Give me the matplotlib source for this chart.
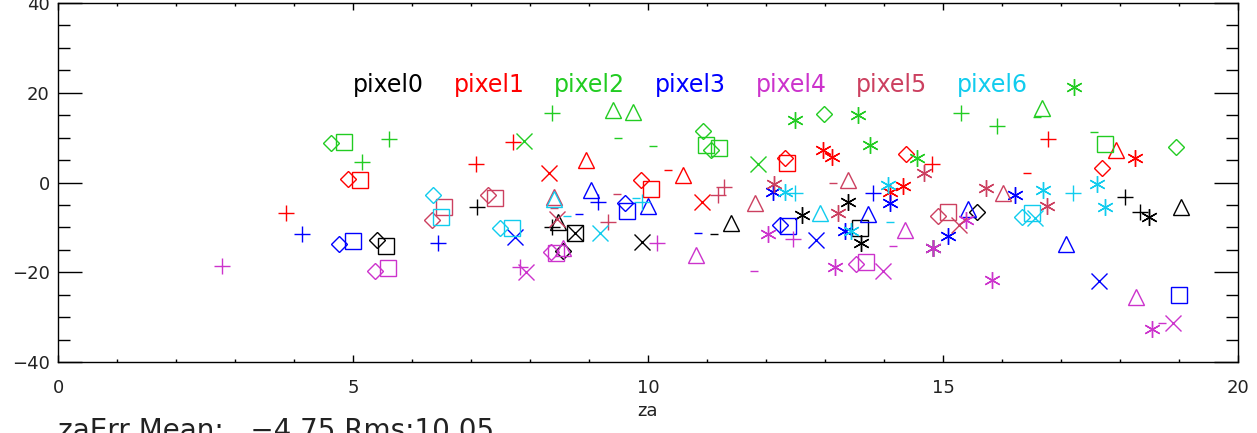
import matplotlib
matplotlib.use('Agg')
import matplotlib.pyplot as plt
from matplotlib.ticker import MultipleLocator

# za offsets per pixel
pixels = ['pixel0', 'pixel1', 'pixel2', 'pixel3', 'pixel4', 'pixel5', 'pixel6']
colors = ['#000000', '#ff0000', '#22cc22', '#0000ff', '#cc33cc', '#cc4060', '#11ccee']

za0 = [5.41, 5.56, 7.10, 8.47, 8.37, 8.76, 8.76, 8.56, 9.90, 11.12, 11.41, 12.61, 13.39,
       13.59, 13.61, 14.83, 15.58, 18.08, 18.34, 18.49, 19.03]
err0 = [-12.8, -14.2, -5.5, -8.8, -9.9, -11.3, -11.3, -15.3, -13.3, -11.5, -9.0, -7.2, -4.3,
        -10.1, -13.5, -14.6, -6.6, -3.2, -6.6, -7.7, -5.5]
sym0 = ['diamond', 'square', 'plus', 'triangle', 'plus', 'square', 'cross', 'diamond', 'cross',
        'dash', 'triangle', 'star', 'star', 'square', 'star', 'star', 'diamond', 'plus', 'plus',
        'star', 'triangle']

za1 = [3.86, 4.92, 5.12, 7.08, 7.71, 8.32, 8.95, 9.88, 10.05, 10.34, 10.59, 10.92, 12.32,
       12.36, 12.97, 13.12, 14.10, 14.32, 14.37, 14.81, 16.42, 16.78, 17.69, 17.93, 18.25]
err1 = [-6.8, 0.8, 0.6, 4.1, 9.0, 2.1, 5.0, 0.6, -1.4, 2.8, 1.7, -4.3, 5.5,
        4.3, 7.2, 5.7, -2.1, -0.8, 6.4, 4.1, 2.1, 9.7, 3.2, 7.2, 5.5]
sym1 = ['plus', 'diamond', 'square', 'plus', 'plus', 'cross', 'triangle', 'diamond', 'square',
        'dash', 'triangle', 'cross', 'diamond', 'square', 'star', 'star', 'star', 'star',
        'diamond', 'plus', 'dash', 'plus', 'diamond', 'triangle', 'star']

za2 = [4.63, 4.85, 5.15, 5.61, 7.90, 8.37, 9.41, 9.75, 9.49, 10.08, 10.93, 10.98, 11.07,
       11.20, 11.86, 12.49, 12.98, 13.56, 13.76, 14.56, 15.31, 15.92, 16.68, 16.59, 17.22,
       17.56, 17.75, 18.95]
err2 = [8.8, 9.0, 4.6, 9.7, 9.2, 15.5, 16.2, 15.7, 9.9, 8.1, 11.5, 8.4, 7.2,
        7.7, 4.1, 13.9, 15.3, 15.0, 8.4, 5.5, 15.5, 12.6, 16.6, 14.6, 21.3,
        11.3, 8.6, 7.9]
sym2 = ['diamond', 'square', 'plus', 'plus', 'cross', 'plus', 'triangle', 'triangle', 'dash',
        'dash', 'diamond', 'square', 'diamond', 'square', 'cross', 'star', 'diamond', 'star',
        'star', 'star', 'plus', 'plus', 'triangle', 'dash', 'star', 'dash', 'square', 'diamond']

za3 = [4.14, 4.76, 5.00, 6.44, 7.75, 8.83, 9.03, 9.15, 9.61, 9.64, 10.00, 10.85, 12.12,
       12.24, 12.37, 12.85, 13.34, 13.73, 13.81, 14.10, 15.08, 15.42, 16.22, 17.08, 17.64, 19.00]
err3 = [-11.5, -13.7, -13.0, -13.5, -12.1, -7.0, -1.7, -4.3, -4.6, -6.4, -5.2, -11.3, -2.1,
        -9.5, -9.7, -12.8, -10.8, -7.0, -2.3, -4.6, -11.9, -5.9, -2.8, -13.7, -22.0, -25.1]
sym3 = ['plus', 'diamond', 'square', 'plus', 'cross', 'dash', 'triangle', 'plus', 'diamond',
        'square', 'triangle', 'dash', 'star', 'diamond', 'square', 'cross', 'star', 'triangle',
        'plus', 'star', 'star', 'triangle', 'star', 'triangle', 'cross', 'square']

za4 = [2.78, 5.37, 5.59, 7.83, 7.93, 8.36, 8.44, 8.56, 10.15, 10.81, 11.80, 12.03, 12.46,
       13.17, 13.53, 13.69, 13.98, 14.15, 14.36, 14.83, 15.39, 15.83, 18.27, 18.54, 18.71, 18.90]
err4 = [-18.6, -19.7, -19.1, -18.8, -19.9, -15.5, -15.7, -14.6, -13.5, -16.2, -19.7, -11.5, -12.6,
        -18.8, -18.2, -17.7, -19.7, -14.2, -10.6, -14.6, -8.4, -21.7, -25.5, -32.6, -31.3, -31.3]
sym4 = ['plus', 'diamond', 'square', 'plus', 'cross', 'diamond', 'square', 'triangle', 'plus',
        'triangle', 'dash', 'star', 'plus', 'star', 'diamond', 'square', 'cross', 'dash',
        'triangle', 'star', 'star', 'star', 'triangle', 'star', 'dash', 'cross']

za5 = [6.34, 6.54, 7.29, 7.41, 8.41, 8.41, 8.46, 9.32, 9.47, 11.19, 11.29, 11.81, 12.14,
       13.14, 13.39, 13.22, 14.68, 14.92, 15.08, 15.27, 15.73, 16.02, 16.76]
err5 = [-8.4, -5.5, -2.8, -3.5, -3.2, -5.7, -8.1, -8.8, -2.6, -2.8, -1.0, -4.6, -0.3,
        -0.1, 0.6, -6.8, 2.1, -7.5, -6.6, -9.5, -1.2, -2.3, -5.2]
sym5 = ['diamond', 'square', 'diamond', 'square', 'triangle', 'dash', 'cross', 'plus', 'dash',
        'plus', 'plus', 'triangle', 'star', 'dash', 'triangle', 'star', 'star', 'diamond',
        'square', 'cross', 'star', 'triangle', 'star']

za6 = [6.36, 6.49, 7.49, 7.69, 8.41, 8.63, 9.19, 9.80, 9.90, 12.32, 12.49, 12.92, 13.44,
       14.07, 14.10, 16.34, 16.51, 16.56, 16.69, 17.20, 17.61, 17.75]
err6 = [-2.8, -7.7, -10.1, -10.1, -3.7, -7.5, -11.3, -3.5, -4.3, -2.1, -2.3, -6.8, -10.8,
        -0.6, -8.8, -7.7, -6.8, -7.9, -1.7, -2.3, -0.3, -5.5]
sym6 = ['diamond', 'square', 'diamond', 'square', 'triangle', 'dash', 'cross', 'dash', 'plus',
        'star', 'plus', 'triangle', 'star', 'star', 'dash', 'diamond', 'square', 'cross', 'star',
        'plus', 'star', 'star']

za_mean = -4.75
za_rms = 10.05

all_za = [za0, za1, za2, za3, za4, za5, za6]
all_err = [err0, err1, err2, err3, err4, err5, err6]
all_sym = [sym0, sym1, sym2, sym3, sym4, sym5, sym6]

# IDL-like psym look
markers = {
    'plus': ('+', 12),
    'star': ((6, 2, 0), 12),
    'dash': ('_', 6),
    'diamond': ('D', 8.5),
    'triangle': ('^', 12),
    'square': ('s', 12),
    'cross': ('x', 12),
}

fig = plt.figure(figsize=(12.57, 4.33), dpi=100)
ax = fig.add_axes([58 / 1257, 1 - 362 / 433, 1180 / 1257, 359 / 433])

for za, err, sym, c in zip(all_za, all_err, all_sym, colors):
    for key, (m, ms) in markers.items():
        xs = [z for z, s in zip(za, sym) if s == key]
        ys = [e for e, s in zip(err, sym) if s == key]
        if xs:
            ax.plot(xs, ys, ls='none', marker=m, ms=ms, mfc='none', mec=c, mew=1.0)

for i, (name, c) in enumerate(zip(pixels, colors)):
    ax.text(5.0 + i * 1.705, 21.7, name, color=c, fontsize=17, va='center')

ax.set_xlim(0, 20)
ax.set_ylim(-40, 40)
ax.xaxis.set_major_locator(MultipleLocator(5))
ax.xaxis.set_minor_locator(MultipleLocator(1))
ax.yaxis.set_major_locator(MultipleLocator(20))
ax.yaxis.set_minor_locator(MultipleLocator(5))
ax.tick_params(axis='x', which='major', direction='in', length=5, top=True, pad=12,
               labelsize=13, width=1, labelcolor='#222222')
ax.tick_params(axis='x', which='minor', direction='in', length=2.5, top=True, width=1)
ax.tick_params(axis='y', which='major', direction='in', length=17, right=True, pad=6,
               labelsize=13, width=1, labelcolor='#222222')
ax.tick_params(axis='y', which='minor', direction='in', length=8.5, right=True, width=1)
ax.set_yticks([-40, -20, 0, 20, 40])
ax.set_yticklabels(['\u221240', '\u221220', '0', '20', '40'])
ax.set_xlabel('za', fontsize=13, labelpad=4, color='#222222')
for sp in ax.spines.values():
    sp.set_linewidth(1)

fig.text(58 / 1257, -0.013,
         'zaErr Mean:   \u2212%.2f Rms:%.2f' % (abs(za_mean), za_rms),
         fontsize=20, va='baseline', ha='left', color='#222222')

fig.savefig('out.png', dpi=100)
